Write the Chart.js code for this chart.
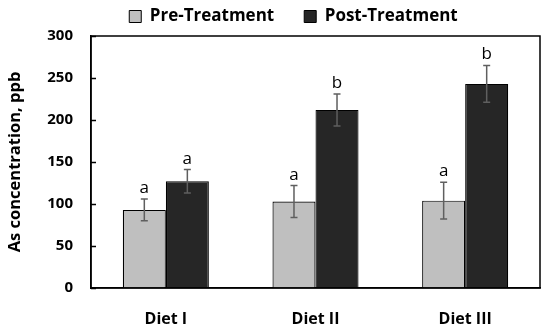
<!DOCTYPE html>
<html>
<head>
<meta charset="utf-8">
<script src="https://cdn.jsdelivr.net/npm/chart.js@4"></script>
<style>
  html, body { margin: 0; padding: 0; background: #fff; }
  #wrap { width: 550px; height: 327px; }
</style>
</head>
<body>
<div id="wrap"><canvas id="chart"></canvas></div>
<script>
const categories = ['Diet I', 'Diet II', 'Diet III'];
const preValues = [93, 103, 104];
const postValues = [127, 212, 243];
const preErrors = [13, 19, 22];
const postErrors = [14, 19, 22];
const preLetters = ['a', 'a', 'a'];
const postLetters = ['a', 'b', 'b'];
const yTicks = [0, 50, 100, 150, 200, 250, 300];

const FONT = "'Open Sans', 'DejaVu Sans', sans-serif";

// error bars + significance letters, placed through the y scale
const errorBarPlugin = {
  id: 'errorBars',
  afterDatasetsDraw(chart) {
    const ctx = chart.ctx;
    const y = chart.scales.y;
    chart.data.datasets.forEach((ds, i) => {
      const meta = chart.getDatasetMeta(i);
      meta.data.forEach((bar, j) => {
        const v = ds.data[j];
        const e = ds.errors[j];
        const top = y.getPixelForValue(v + e);
        const bot = y.getPixelForValue(v - e);
        ctx.save();
        ctx.strokeStyle = '#5f5f5f';
        ctx.lineWidth = 1.5;
        ctx.beginPath();
        ctx.moveTo(bar.x, top); ctx.lineTo(bar.x, bot);
        ctx.moveTo(bar.x - 3.5, top); ctx.lineTo(bar.x + 3.5, top);
        ctx.moveTo(bar.x - 3.5, bot); ctx.lineTo(bar.x + 3.5, bot);
        ctx.stroke();
        ctx.fillStyle = '#000';
        ctx.font = '17px ' + FONT;
        ctx.textAlign = 'center';
        ctx.textBaseline = 'alphabetic';
        ctx.fillText(ds.letters[j], bar.x, top - 6);
        ctx.restore();
      });
    });
  }
};

// box around the plot area, with inside tick marks on the y axis
const framePlugin = {
  id: 'frame',
  afterDraw(chart) {
    const a = chart.chartArea;
    const ctx = chart.ctx;
    const y = chart.scales.y;
    ctx.save();
    ctx.strokeStyle = '#000';
    ctx.lineWidth = 1.5;
    ctx.strokeRect(a.left, a.top, a.right - a.left, a.bottom - a.top);
    ctx.beginPath();
    yTicks.forEach(v => {
      const py = Math.round(y.getPixelForValue(v)) + 0.5;
      ctx.moveTo(a.left, py);
      ctx.lineTo(a.left + 5, py);
    });
    ctx.stroke();
    ctx.restore();
  }
};

// fixed legend height, and nudge the legend to the right like the original
const LEGEND_SHIFT = 21;
const legendTweak = {
  id: 'legendTweak',
  beforeInit(chart) {
    const fit = chart.legend.fit;
    chart.legend.fit = function () {
      fit.bind(this)();
      this.height = 58;
    };
  },
  beforeDraw(chart) {
    chart.legend.left += LEGEND_SHIFT;
    chart.legend.right += LEGEND_SHIFT;
  },
  afterDraw(chart) {
    chart.legend.left -= LEGEND_SHIFT;
    chart.legend.right -= LEGEND_SHIFT;
  }
};

new Chart(document.getElementById('chart'), {
  type: 'bar',
  data: {
    labels: categories,
    datasets: [
      {
        label: 'Pre-Treatment',
        data: preValues,
        errors: preErrors,
        letters: preLetters,
        backgroundColor: '#bfbfbf',
        borderColor: '#000',
        borderWidth: 1.2,
        categoryPercentage: 0.575,
        barPercentage: 1.0
      },
      {
        label: 'Post-Treatment',
        data: postValues,
        errors: postErrors,
        letters: postLetters,
        backgroundColor: '#262626',
        borderColor: '#000',
        borderWidth: 1.2,
        categoryPercentage: 0.575,
        barPercentage: 1.0
      }
    ]
  },
  options: {
    responsive: true,
    maintainAspectRatio: false,
    animation: false,
    layout: { padding: { left: 5, right: 10, top: -22, bottom: 0 } },
    plugins: {
      tooltip: { enabled: false },
      legend: {
        position: 'top',
        labels: {
          font: { family: FONT, size: 17, weight: 'bold' },
          color: '#000',
          boxWidth: 12,
          boxHeight: 12,
          padding: 30,
          generateLabels(chart) {
            return chart.data.datasets.map((ds, i) => ({
              text: ds.label,
              fillStyle: ds.backgroundColor,
              strokeStyle: '#000',
              lineWidth: 1,
              datasetIndex: i
            }));
          }
        }
      }
    },
    scales: {
      x: {
        grid: { display: false },
        border: { display: true, color: '#000', width: 1.5 },
        ticks: { color: '#000', font: { family: FONT, size: 16, weight: 'bold' }, padding: 14 },
        afterFit(scale) { scale.height = 39; }
      },
      y: {
        min: 0,
        max: 300,
        afterBuildTicks(scale) { scale.ticks = yTicks.map(v => ({ value: v })); },
        grid: { drawOnChartArea: false, drawTicks: false },
        border: { display: true, color: '#000', width: 1.5 },
        ticks: { color: '#000', font: { family: FONT, size: 15, weight: 'bold' }, padding: 18 },
        title: {
          display: true,
          text: 'As concentration, ppb',
          color: '#000',
          font: { family: FONT, size: 16.5, weight: 'bold' },
          padding: { top: 0, bottom: 6 }
        },
        afterFit(scale) { scale.width = 86; }
      }
    }
  },
  plugins: [errorBarPlugin, framePlugin, legendTweak]
});
</script>
</body>
</html>
